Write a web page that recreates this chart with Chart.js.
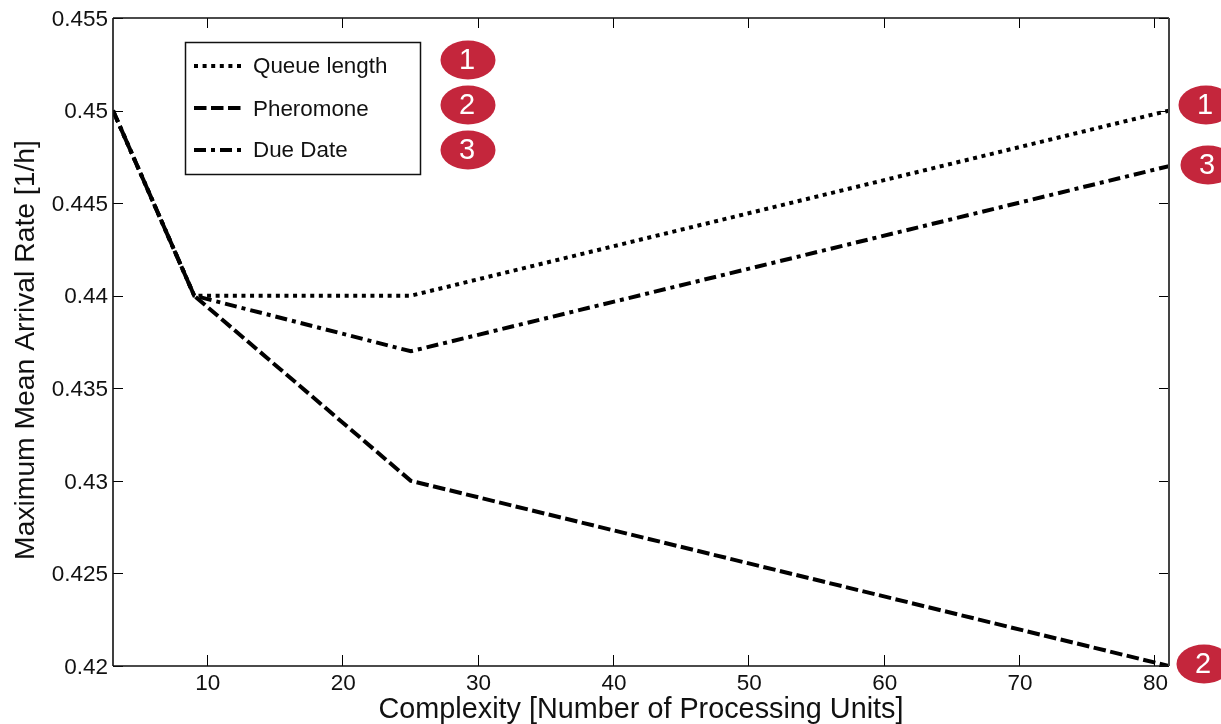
<!DOCTYPE html>
<html>
<head>
<meta charset="utf-8">
<script src="https://cdn.jsdelivr.net/npm/chart.js@4"></script>
<style>
html,body{margin:0;padding:0;background:#fff;overflow:hidden}
#wrap{position:relative;width:1221px;height:724px}
</style>
</head>
<body>
<div id="wrap"><canvas id="c" width="1221" height="724"></canvas></div>
<script>
const complexity = [3, 9, 25, 81];
const queueLength = [0.45, 0.44, 0.44, 0.45];
const pheromone = [0.45, 0.44, 0.43, 0.42];
const dueDate = [0.45, 0.44, 0.437, 0.447];
const xTicks = [10, 20, 30, 40, 50, 60, 70, 80];
const yTicks = [0.42, 0.425, 0.43, 0.435, 0.44, 0.445, 0.45, 0.455];
const yTickLabels = ['0.42', '0.425', '0.43', '0.435', '0.44', '0.445', '0.45', '0.455'];
const seriesNames = ['Queue length', 'Pheromone', 'Due Date'];
const xTitle = 'Complexity [Number of Processing Units]';
const yTitle = 'Maximum Mean Arrival Rate [1/h]';

const FONT = '"Liberation Sans", Arial, sans-serif';
const dashes = [[4, 4.6], [12.5, 4.5], [12, 5, 4, 5]];
const series = [queueLength, pheromone, dueDate];

const frameAndTicks = {
  id: 'frameAndTicks',
  afterDatasetsDraw(chart) {
    const {ctx, chartArea: a, scales: {x, y}} = chart;
    ctx.save();
    ctx.strokeStyle = '#000';
    ctx.lineWidth = 1;
    ctx.beginPath();
    xTicks.forEach(v => {
      const p = Math.round(x.getPixelForValue(v)) - 0.5;
      ctx.moveTo(p, a.bottom); ctx.lineTo(p, a.bottom - 11);
      ctx.moveTo(p, a.top); ctx.lineTo(p, a.top + 10);
    });
    yTicks.forEach(v => {
      const p = Math.round(y.getPixelForValue(v)) + 0.5;
      ctx.moveTo(a.left, p); ctx.lineTo(a.left + 10, p);
      ctx.moveTo(a.right, p); ctx.lineTo(a.right - 10, p);
    });
    ctx.stroke();
    ctx.lineWidth = 1.6;
    ctx.strokeStyle = '#111';
    ctx.beginPath();
    ctx.moveTo(a.left, a.top); ctx.lineTo(a.right, a.top);
    ctx.moveTo(a.left, a.bottom); ctx.lineTo(a.right, a.bottom);
    ctx.moveTo(a.left, a.top); ctx.lineTo(a.left, a.bottom);
    ctx.stroke();
    ctx.lineWidth = 2;
    ctx.strokeStyle = '#444';
    ctx.beginPath();
    ctx.moveTo(a.right, a.top); ctx.lineTo(a.right, a.bottom);
    ctx.stroke();
    ctx.restore();
  }
};

const yTickText = {
  id: 'yTickText',
  afterDraw(chart) {
    const {ctx, scales: {y}} = chart;
    ctx.save();
    ctx.font = '22.5px ' + FONT;
    ctx.fillStyle = '#111';
    ctx.textAlign = 'right';
    ctx.textBaseline = 'middle';
    y.ticks.forEach(t => {
      ctx.fillText(t.label, 108, y.getPixelForValue(t.value) + 1.5);
    });
    ctx.restore();
  }
};

const boxLegend = {
  id: 'boxLegend',
  afterDraw(chart) {
    const {ctx} = chart;
    ctx.save();
    ctx.fillStyle = '#fff';
    ctx.fillRect(185, 42, 235, 132);
    ctx.strokeStyle = '#111';
    ctx.lineWidth = 1.5;
    ctx.strokeRect(185.5, 42.5, 235, 132);
    const lineY = [66, 108, 150];
    const textY = [67, 110, 151];
    ctx.font = '22.4px ' + FONT;
    ctx.textBaseline = 'middle';
    ctx.textAlign = 'left';
    chart.data.datasets.forEach((d, i) => {
      ctx.strokeStyle = '#000';
      ctx.lineWidth = d.borderWidth;
      ctx.setLineDash(d.borderDash);
      ctx.beginPath();
      ctx.moveTo(194, lineY[i]);
      ctx.lineTo(243, lineY[i]);
      ctx.stroke();
      ctx.setLineDash([]);
      ctx.fillStyle = '#111';
      ctx.fillText(d.label, 253, textY[i]);
    });
    ctx.restore();
  }
};

const badges = {
  id: 'badges',
  afterDraw(chart) {
    const {ctx} = chart;
    const items = [
      ['1', 468, 60], ['2', 468, 105], ['3', 468, 150],
      ['1', 1206, 105], ['3', 1208, 165], ['2', 1204, 664]
    ];
    ctx.save();
    ctx.font = '29px ' + FONT;
    ctx.textAlign = 'center';
    ctx.textBaseline = 'middle';
    items.forEach(([t, cx, cy]) => {
      ctx.fillStyle = '#c4263c';
      ctx.beginPath();
      ctx.ellipse(cx, cy, 27.5, 19.5, 0, 0, Math.PI * 2);
      ctx.fill();
      ctx.fillStyle = '#fff';
      ctx.fillText(t, cx - 1, cy + 1);
    });
    ctx.restore();
  }
};

const yAxisTitle = {
  id: 'yAxisTitle',
  afterDraw(chart) {
    const {ctx} = chart;
    ctx.save();
    ctx.translate(26, 350);
    ctx.rotate(-Math.PI / 2);
    ctx.font = '28.3px ' + FONT;
    ctx.fillStyle = '#111';
    ctx.textAlign = 'center';
    ctx.textBaseline = 'middle';
    ctx.fillText(yTitle, 0, 0);
    ctx.restore();
  }
};

new Chart(document.getElementById('c'), {
  type: 'line',
  data: {
    datasets: series.map((vals, i) => ({
      label: seriesNames[i],
      data: vals.map((v, k) => ({x: complexity[k], y: v})),
      borderColor: '#000',
      borderWidth: 4,
      borderDash: dashes[i],
      borderCapStyle: 'butt',
      borderJoinStyle: 'miter',
      pointRadius: 0,
      tension: 0,
      fill: false
    }))
  },
  options: {
    responsive: false,
    animation: false,
    layout: {padding: {top: 18, right: 52, left: 0, bottom: 0}},
    plugins: {legend: {display: false}, tooltip: {enabled: false}},
    scales: {
      x: {
        type: 'linear',
        min: 3,
        max: 81,
        afterBuildTicks: s => { s.ticks = xTicks.map(v => ({value: v})); },
        afterFit: s => { s.height = 58; },
        grid: {display: false},
        border: {display: false},
        ticks: {
          autoSkip: false, maxRotation: 0, padding: -4,
          color: '#111', font: {family: FONT, size: 22.5}
        },
        title: {
          display: true, text: xTitle, color: '#111',
          font: {family: FONT, size: 28.8},
          padding: {top: 0, bottom: -3}
        }
      },
      y: {
        type: 'linear',
        min: 0.42,
        max: 0.455,
        afterBuildTicks: s => { s.ticks = yTicks.map(v => ({value: v})); },
        afterFit: s => { s.width = 113; },
        grid: {display: false},
        border: {display: false},
        ticks: {
          display: false,
          autoSkip: false,
          callback: v => yTickLabels[yTicks.findIndex(t => Math.abs(t - v) < 1e-9)]
        }
      }
    }
  },
  plugins: [frameAndTicks, yTickText, boxLegend, badges, yAxisTitle]
});
</script>
</body>
</html>
